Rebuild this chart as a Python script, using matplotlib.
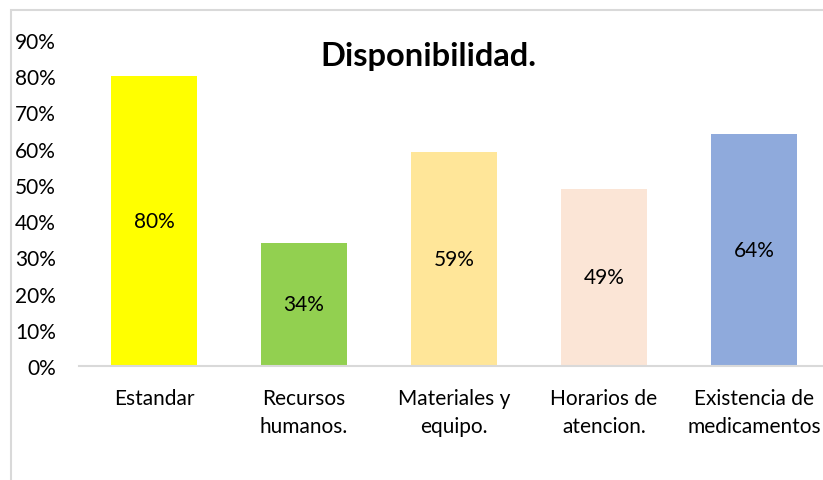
import matplotlib.pyplot as plt
from matplotlib.patches import Rectangle

# data
categorias = ['Estandar', 'Recursos\nhumanos.', 'Materiales y\nequipo.',
              'Horarios de\natencion.', 'Existencia de\nmedicamentos']
valores = [80, 34, 59, 49, 64]
colores = ['#FFFF00', '#92D050', '#FFE699', '#FBE5D6', '#8FAADC']
yticks = [0, 10, 20, 30, 40, 50, 60, 70, 80, 90]

plt.rcParams['font.family'] = ['Lato', 'DejaVu Sans']

fig = plt.figure(figsize=(8.23, 4.81), dpi=100)
W, H = 823, 481
ax = fig.add_axes([79 / W, 1 - 367 / H, 750 / W, 326 / H])

x = range(len(categorias))
bars = ax.bar(x, valores, width=0.573, color=colores)
for b, v in zip(bars, valores):
    ax.text(b.get_x() + b.get_width() / 2, v / 2, f'{v}%',
            ha='center', va='center', fontsize=15, color='black')

ax.set_xlim(-0.5, len(categorias) - 0.5)
ax.set_ylim(0, 90)
ax.set_yticks(yticks)
ax.set_yticklabels([f'{t}%' for t in yticks], fontsize=15)
ax.set_xticks(list(x))
ax.set_xticklabels(categorias, fontsize=15, linespacing=1.5)
ax.tick_params(axis='both', length=0)
ax.tick_params(axis='x', pad=16)
ax.tick_params(axis='y', pad=16.5)

for s in ['top', 'right', 'left']:
    ax.spines[s].set_visible(False)
ax.spines['bottom'].set_color('#D9D9D9')
ax.spines['bottom'].set_linewidth(1.5)

fig.text(428 / W, 1 - 57 / H, 'Disponibilidad.', ha='center', va='center',
         fontsize=23.5, fontweight='bold')

# marco del grafico
fig.add_artist(Rectangle((11 / W, -0.1), 1.2, 1 - 11 / H + 0.1,
                         transform=fig.transFigure, fill=False,
                         edgecolor='#D9D9D9', linewidth=1.5))

fig.savefig('out.png', dpi=100)
